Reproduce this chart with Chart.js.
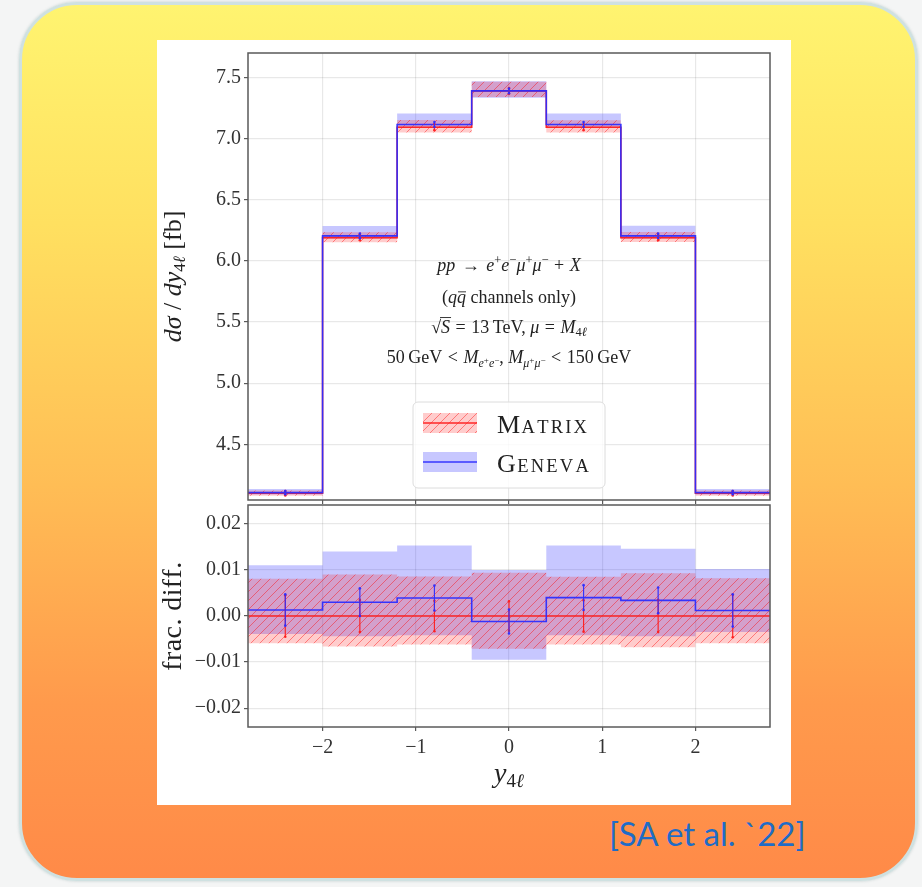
<!DOCTYPE html>
<html>
<head>
<meta charset="utf-8">
<script src="https://cdn.jsdelivr.net/npm/chart.js@4.4.1/dist/chart.umd.min.js"></script>
<style>
  html, body { margin: 0; padding: 0; width: 922px; height: 887px; overflow: hidden; background: #f4f5f5; }
  #slide {
    position: absolute; left: 19px; top: 2px; width: 899px; height: 879px;
    box-sizing: border-box; border-radius: 58px;
    background: linear-gradient(180deg, #fff470 0%, #ffe060 25%, #ffbd55 55%, #ff9a4c 80%, #ff8a48 100%);
    border: 3px solid #cfe1e1;
    box-shadow: 0 0 3px rgba(120,150,150,0.4);
  }
  #panel { position: absolute; left: 157px; top: 40px; width: 634px; height: 765px; background: #ffffff; }
  #main  { position: absolute; left: 0; top: 0; }
  #ratio { position: absolute; left: 0; top: 463px; }
  #cite  { position: absolute; left: 609px; top: 813px; font: 33px "Lato", "Open Sans", sans-serif; color: #1f6cc6; white-space: nowrap; }
</style>
</head>
<body>
<div id="slide"></div>
<div id="panel">
  <canvas id="main" width="634" height="465"></canvas>
  <canvas id="ratio" width="634" height="302"></canvas>
</div>
<div id="cite">[SA et al. `22]</div>

<script>
// ---- binning in the four-lepton rapidity y_4l ----
const binEdges   = [-2.8, -2.0, -1.2, -0.4, 0.4, 1.2, 2.0, 2.8];
const binCenters = [-2.4, -1.6, -0.8, 0.0, 0.8, 1.6, 2.4];

// ---- dsigma/dy_4l [fb] ----
const matrixXsec = [4.100, 6.190, 7.093, 7.390, 7.093, 6.190, 4.100];
const matrixErr  = [0.018, 0.021, 0.024, 0.024, 0.024, 0.021, 0.018];
const matrixLo   = [4.080, 6.152, 7.050, 7.340, 7.050, 6.155, 4.080];
const matrixHi   = [4.122, 6.235, 7.152, 7.465, 7.150, 6.236, 4.122];

const genevaXsec = [4.105, 6.205, 7.115, 7.390, 7.115, 6.205, 4.105];
const genevaErr  = [0.014, 0.019, 0.020, 0.019, 0.020, 0.018, 0.014];
const genevaLo   = [4.090, 6.182, 7.095, 7.335, 7.095, 6.182, 4.090];
const genevaHi   = [4.135, 6.285, 7.205, 7.470, 7.205, 6.288, 4.135];

// ---- fractional difference w.r.t. Matrix ----
const ratioMatrix    = [0, 0, 0, 0, 0, 0, 0];
const ratioMatrixErr = [0.0045, 0.0035, 0.0033, 0.0032, 0.0034, 0.0035, 0.0046];
const ratioMatrixLo  = [-0.0059, -0.0066, -0.0062, -0.0071, -0.0062, -0.0068, -0.0059];
const ratioMatrixHi  = [0.0081, 0.0090, 0.0086, 0.0094, 0.0085, 0.0093, 0.0082];

const ratioGeneva    = [0.0013, 0.0030, 0.0039, -0.0012, 0.0040, 0.0034, 0.0012];
const ratioGenevaErr = [0.0034, 0.0030, 0.0027, 0.0026, 0.0027, 0.0028, 0.0035];
const ratioGenevaLo  = [-0.0039, -0.0044, -0.0042, -0.0095, -0.0042, -0.0044, -0.0035];
const ratioGenevaHi  = [0.0110, 0.0140, 0.0153, 0.0100, 0.0153, 0.0146, 0.0102];

// ---- axis ticks ----
const xTicks      = [-2, -1, 0, 1, 2];
const mainYTicks  = [4.5, 5.0, 5.5, 6.0, 6.5, 7.0, 7.5];
const ratioYTicks = [-0.02, -0.01, 0.0, 0.01, 0.02];

// ---- styling ----
const SERIF = '"Liberation Serif", "DejaVu Serif", serif';
const RED = 'rgba(255,30,30,0.95)';
const BLUE = 'rgba(45,45,255,0.95)';
const BLUE_BAND = 'rgba(0,0,255,0.22)';
const TEXT = '#222';

function hatchPattern() {
  const c = document.createElement('canvas');
  c.width = 9; c.height = 9;
  const g = c.getContext('2d');
  g.fillStyle = 'rgba(255,0,0,0.2)';
  g.fillRect(0, 0, 9, 9);
  g.strokeStyle = 'rgba(255,0,0,0.42)';
  g.lineWidth = 1;
  g.beginPath();
  g.moveTo(-1, 10); g.lineTo(10, -1);
  g.moveTo(-2, 2); g.lineTo(2, -2);
  g.moveTo(7, 11); g.lineTo(11, 7);
  g.stroke();
  return g.createPattern(c, 'repeat');
}
const HATCH = hatchPattern();

// histogram as a stepped line: one point per left edge plus the closing right edge
function steps(vals) {
  return binEdges.map((x, i) => ({ x, y: vals[Math.min(i, vals.length - 1)] }));
}

// rich text: runs of {t, s, i (italic), dy, ls (letter spacing), sp (side space), bar}
function runFont(r) { return (r.i ? 'italic ' : '') + r.s + 'px ' + SERIF; }
function runWidth(ctx, r) {
  ctx.font = runFont(r);
  const sp = 2 * (r.sp || 0);
  if (r.ls) { let w = 0; for (const ch of r.t) w += ctx.measureText(ch).width + r.ls; return w + sp; }
  return ctx.measureText(r.t).width + sp;
}
function drawRich(ctx, runs, x, y, opt = {}) {
  ctx.save();
  ctx.translate(x, y);
  if (opt.rot) ctx.rotate(opt.rot);
  let total = 0;
  for (const r of runs) total += runWidth(ctx, r);
  let cx = opt.align === 'left' ? 0 : -total / 2;
  ctx.textAlign = 'left';
  ctx.textBaseline = 'alphabetic';
  ctx.fillStyle = opt.color || TEXT;
  ctx.strokeStyle = opt.color || TEXT;
  for (const r of runs) {
    const dy = r.dy || 0;
    const w = runWidth(ctx, r);
    const sp = r.sp || 0;
    ctx.font = runFont(r);
    if (r.ls) {
      let px = cx + sp;
      for (const ch of r.t) { ctx.fillText(ch, px, dy); px += ctx.measureText(ch).width + r.ls; }
    } else {
      ctx.fillText(r.t, cx + sp, dy);
    }
    if (r.bar) {
      ctx.lineWidth = Math.max(0.8, r.s * 0.05);
      ctx.beginPath();
      ctx.moveTo(cx + sp + r.bar[0], dy - r.s * r.bar[2]);
      ctx.lineTo(cx + w - sp + r.bar[1], dy - r.s * r.bar[2]);
      ctx.stroke();
    }
    cx += w;
  }
  ctx.restore();
}

// error bars at bin centres, drawn through the chart scales
function drawErrorBars(chart, vals, errs, color) {
  const ctx = chart.ctx, xs = chart.scales.x, ys = chart.scales.y;
  ctx.save();
  ctx.strokeStyle = color; ctx.fillStyle = color; ctx.lineWidth = 1.2;
  binCenters.forEach((c, i) => {
    const px = xs.getPixelForValue(c);
    const y1 = ys.getPixelForValue(vals[i] - errs[i]);
    const y2 = ys.getPixelForValue(vals[i] + errs[i]);
    ctx.beginPath(); ctx.moveTo(px, y1); ctx.lineTo(px, y2); ctx.stroke();
    ctx.beginPath(); ctx.arc(px, y1, 1.3, 0, Math.PI * 2); ctx.fill();
    ctx.beginPath(); ctx.arc(px, y2, 1.3, 0, Math.PI * 2); ctx.fill();
  });
  ctx.restore();
}

const framePlugin = {
  id: 'frame',
  afterDraw(chart) {
    const a = chart.chartArea, ctx = chart.ctx;
    ctx.save();
    ctx.strokeStyle = '#5a5a5a'; ctx.lineWidth = 1.5;
    ctx.strokeRect(a.left, a.top, a.right - a.left, a.bottom - a.top);
    ctx.restore();
  }
};

const tickFont = { family: SERIF, size: 20 };
const gridStyle = { color: 'rgba(0,0,0,0.09)', lineWidth: 1.2, tickColor: '#5a5a5a', tickLength: 4, tickWidth: 1.2 };
const minus = s => s.replace('-', '\u2212');

function xScale(showLabels, height) {
  return {
    type: 'linear', min: binEdges[0], max: binEdges[binEdges.length - 1],
    afterBuildTicks: s => { s.ticks = xTicks.map(v => ({ value: v })); },
    afterFit: s => { s.height = height; s.paddingLeft = 0; s.paddingRight = 0; },
    border: { display: false },
    grid: gridStyle,
    ticks: { display: showLabels, font: tickFont, color: '#333', padding: 5,
             maxRotation: 0, callback: v => minus(String(v)) }
  };
}
function yScale(min, max, ticks, fmt) {
  return {
    type: 'linear', min, max,
    afterBuildTicks: s => { s.ticks = ticks.map(v => ({ value: v })); },
    afterFit: s => { s.width = 91; s.paddingTop = 0; s.paddingBottom = 0; },
    border: { display: false },
    grid: gridStyle,
    ticks: { font: tickFont, color: '#333', padding: 3, callback: fmt }
  };
}

const lineDs = (data, color, order) => ({
  data, stepped: 'before', borderColor: color, borderWidth: 1.6,
  pointRadius: 0, fill: false, order
});
const bandDs = (data, bg, order, target) => ({
  data, stepped: 'before', borderWidth: 0, borderColor: 'rgba(0,0,0,0)',
  pointRadius: 0, backgroundColor: bg, fill: target === undefined ? false : target, order
});

const common = {
  responsive: false, animation: false, devicePixelRatio: 1,
  plugins: { legend: { display: false }, tooltip: { enabled: false } },
  events: []
};

// ---------------- main panel ----------------
new Chart(document.getElementById('main'), {
  type: 'line',
  data: {
    datasets: [
      lineDs(steps(genevaXsec), BLUE, 0),
      lineDs(steps(matrixXsec), RED, 1),
      bandDs(steps(matrixHi), HATCH, 2, 3),
      bandDs(steps(matrixLo), HATCH, 3),
      bandDs(steps(genevaHi), BLUE_BAND, 4, 5),
      bandDs(steps(genevaLo), BLUE_BAND, 5)
    ]
  },
  options: {
    ...common,
    layout: { padding: { top: 13, right: 21, left: 0, bottom: 0 } },
    scales: {
      x: xScale(false, 5),
      y: yScale(4.045, 7.70, mainYTicks, v => v.toFixed(1))
    }
  },
  plugins: [framePlugin, {
    id: 'mainDecor',
    afterDatasetsDraw(chart) {
      drawErrorBars(chart, matrixXsec, matrixErr, RED);
      drawErrorBars(chart, genevaXsec, genevaErr, BLUE);
    },
    afterDraw(chart) {
      const ctx = chart.ctx;
      const cx = chart.scales.x.getPixelForValue(0);
      const s = 18, ss = 12.5, rel = 5.5, bin = 4.5;
      // process description
      drawRich(ctx, [
        { t: 'pp', s, i: 1 }, { t: '\u2192', s, sp: rel + 1 },
        { t: 'e', s, i: 1 }, { t: '+', s: ss, dy: -7 },
        { t: 'e', s, i: 1 }, { t: '\u2212', s: ss, dy: -7 },
        { t: '\u03bc', s, i: 1 }, { t: '+', s: ss, dy: -7 },
        { t: '\u03bc', s, i: 1 }, { t: '\u2212', s: ss, dy: -7 },
        { t: '+', s, sp: bin + 1 }, { t: 'X', s, i: 1 }
      ], cx, 231);
      drawRich(ctx, [
        { t: '(', s }, { t: 'q', s, i: 1 }, { t: 'q', s, i: 1, bar: [1, 0, 0.62] },
        { t: ' channels only)', s }
      ], cx, 263);
      drawRich(ctx, [
        { t: '\u221a', s }, { t: 'S', s, i: 1, bar: [-1, 1, 0.86] },
        { t: '=', s, sp: rel }, { t: '13\u2009TeV, ', s }, { t: '\u03bc', s, i: 1 },
        { t: '=', s, sp: rel },
        { t: 'M', s, i: 1 }, { t: '4', s: ss, dy: 3 }, { t: '\u2113', s: ss, i: 1, dy: 3 }
      ], cx, 293);
      drawRich(ctx, [
        { t: '50\u2009GeV', s }, { t: '<', s, sp: rel }, { t: 'M', s, i: 1 },
        { t: 'e', s: 12, i: 1, dy: 4 }, { t: '+', s: 9 },
        { t: 'e', s: 12, i: 1, dy: 4 }, { t: '\u2212', s: 9 },
        { t: ', ', s }, { t: 'M', s, i: 1 },
        { t: '\u03bc', s: 12, i: 1, dy: 4 }, { t: '+', s: 9 },
        { t: '\u03bc', s: 12, i: 1, dy: 4 }, { t: '\u2212', s: 9 },
        { t: '<', s, sp: rel }, { t: '150\u2009GeV', s }
      ], cx, 323);

      // legend
      ctx.save();
      const bx = 256, by = 362, bw = 192, bh = 86, r = 5;
      ctx.beginPath();
      ctx.moveTo(bx + r, by); ctx.arcTo(bx + bw, by, bx + bw, by + bh, r);
      ctx.arcTo(bx + bw, by + bh, bx, by + bh, r); ctx.arcTo(bx, by + bh, bx, by, r);
      ctx.arcTo(bx, by, bx + bw, by, r); ctx.closePath();
      ctx.fillStyle = 'rgba(255,255,255,0.8)'; ctx.fill();
      ctx.strokeStyle = '#dcdcdc'; ctx.lineWidth = 1; ctx.stroke();
      // Matrix entry
      ctx.fillStyle = HATCH; ctx.fillRect(266, 373, 54, 20);
      ctx.strokeStyle = RED; ctx.lineWidth = 1.6;
      ctx.beginPath(); ctx.moveTo(266, 383); ctx.lineTo(320, 383); ctx.stroke();
      // Geneva entry
      ctx.fillStyle = BLUE_BAND; ctx.fillRect(266, 412, 54, 20);
      ctx.strokeStyle = BLUE;
      ctx.beginPath(); ctx.moveTo(266, 422); ctx.lineTo(320, 422); ctx.stroke();
      ctx.restore();
      drawRich(ctx, [{ t: 'M', s: 26, ls: 1.5 }, { t: 'ATRIX', s: 18.5, ls: 2.2 }], 340, 393, { align: 'left' });
      drawRich(ctx, [{ t: 'G', s: 26, ls: 1.5 }, { t: 'ENEVA', s: 18.5, ls: 2.2 }], 340, 432, { align: 'left' });

      // y-axis title
      drawRich(ctx, [
        { t: 'd\u03c3', s: 26, i: 1 }, { t: ' / ', s: 26 },
        { t: 'dy', s: 26, i: 1 }, { t: '4', s: 17, dy: 4 }, { t: '\u2113', s: 17, i: 1, dy: 4 },
        { t: ' [fb]', s: 26 }
      ], 24, (chart.chartArea.top + chart.chartArea.bottom) / 2, { rot: -Math.PI / 2 });
    }
  }]
});

// ---------------- ratio panel ----------------
new Chart(document.getElementById('ratio'), {
  type: 'line',
  data: {
    datasets: [
      lineDs(steps(ratioGeneva), BLUE, 0),
      lineDs(steps(ratioMatrix), RED, 1),
      bandDs(steps(ratioMatrixHi), HATCH, 2, 3),
      bandDs(steps(ratioMatrixLo), HATCH, 3),
      bandDs(steps(ratioGenevaHi), BLUE_BAND, 4, 5),
      bandDs(steps(ratioGenevaLo), BLUE_BAND, 5)
    ]
  },
  options: {
    ...common,
    layout: { padding: { top: 2, right: 21, left: 0, bottom: 0 } },
    scales: {
      x: xScale(true, 78),
      y: yScale(-0.0241, 0.0241, ratioYTicks,
                v => minus(Math.abs(v) < 1e-9 ? '0.00' : v.toFixed(2)))
    }
  },
  plugins: [framePlugin, {
    id: 'ratioDecor',
    afterDatasetsDraw(chart) {
      drawErrorBars(chart, ratioMatrix, ratioMatrixErr, RED);
      drawErrorBars(chart, ratioGeneva, ratioGenevaErr, BLUE);
    },
    afterDraw(chart) {
      const ctx = chart.ctx;
      drawRich(ctx, [{ t: 'frac. diff.', s: 28, ls: 0.4 }], 24,
               (chart.chartArea.top + chart.chartArea.bottom) / 2, { rot: -Math.PI / 2 });
      drawRich(ctx, [
        { t: 'y', s: 28, i: 1 }, { t: '4', s: 19, dy: 5 }, { t: '\u2113', s: 19, i: 1, dy: 5 }
      ], chart.scales.x.getPixelForValue(0), 279);
    }
  }]
});
</script>
</body>
</html>
